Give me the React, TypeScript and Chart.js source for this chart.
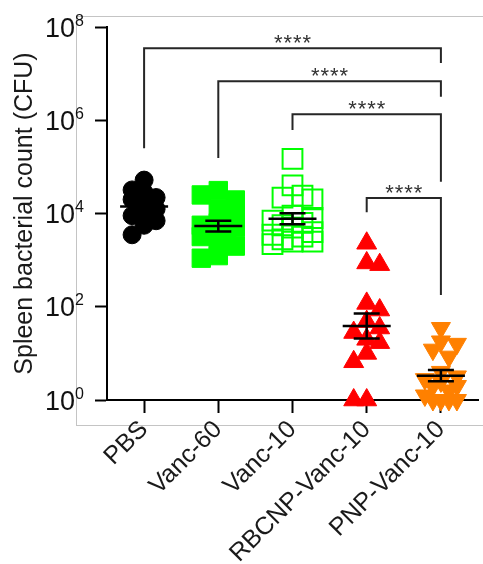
import React, { useEffect, useRef } from 'react';
import { Chart, registerables } from 'chart.js';

Chart.register(...registerables);

const categories = ['PBS', 'Vanc-60', 'Vanc-10', 'RBCNP-Vanc-10', 'PNP-Vanc-10'];
const pbsValues = [52000, 32000, 28000, 22000, 20000, 18000, 16000, 14000, 12500, 10000, 9000, 7000, 5600, 3500];
const vanc60Values = [31000, 25000, 19500, 12500, 9000, 6300, 5600, 5000, 4000, 3500, 3200, 2500, 2000, 1250, 1100];
const vanc10Values = [148000, 40000, 24000, 22000, 20000, 9000, 8000, 7000, 6300, 5600, 5000, 4000, 3500, 3200, 2800, 2500, 2500, 2200];
const rbcnpValues = [2300, 870, 800, 118, 85, 48, 35, 28, 20, 17, 10, 6.6, 1, 1];
const pnpValues = [35, 18, 16, 12, 8.5, 4, 3.2, 2.8, 2.5, 2, 2, 1.6, 1.25, 1, 1, 1, 1];
const yTickExponents = [0, 2, 4, 6, 8];
const yTitle = 'Spleen bacterial count (CFU)';

// significance brackets: from/to category index, level and leg ends in data units
const comparisons = [
  { from: 0, to: 4, label: '****', level: 3.5e7, leftEnd: 2.5e5, rightEnd: 1.7e7 },
  { from: 1, to: 4, label: '****', level: 6.9e6, leftEnd: 1.55e5, rightEnd: 3.2e6 },
  { from: 2, to: 4, label: '****', level: 1.35e6, leftEnd: 6.2e5, rightEnd: 4.8e4 },
  { from: 3, to: 4, label: '****', level: 2.15e4, leftEnd: 1.07e4, rightEnd: 178 },
];

const groups = [pbsValues, vanc60Values, vanc10Values, rbcnpValues, pnpValues];

const groupStyles = [
  { pointStyle: 'circle', radius: 9, bg: '#000000', border: '#000000', bw: 1, rotation: 0, step: 6, minDist: 12, maxK: 2 },
  { pointStyle: 'rect', radius: 13, bg: '#00ff00', border: '#00ff00', bw: 1, rotation: 0, step: 8.5, minDist: 13, maxK: 2 },
  { pointStyle: 'rect', radius: 14, bg: 'rgba(0,0,0,0)', border: '#00ff00', bw: 2, rotation: 0, step: 10, minDist: 13, maxK: 2 },
  { pointStyle: 'triangle', radius: 11.5, bg: '#ff0000', border: '#ff0000', bw: 1, rotation: 0, step: 6.5, minDist: 13, maxK: 2 },
  { pointStyle: 'triangle', radius: 11, bg: '#ff8000', border: '#ff8000', bw: 1, rotation: 180, step: 8, minDist: 11, maxK: 2 },
];

const FONT = "'Liberation Sans', Arial, sans-serif";

function swarmOffsets(pys: number[], step: number, minDist: number, maxK: number): number[] {
  const placed: { x: number; y: number }[] = [];
  const offs: number[] = [];
  pys.forEach((py, idx) => {
    let best = 0;
    let bestScore = -Infinity;
    let found = false;
    for (let k = 0; k <= maxK && !found; k++) {
      const sign = idx % 2 === 0 ? 1 : -1;
      const cands = k === 0 ? [0] : [sign * k * step, -sign * k * step];
      for (const c of cands) {
        let md = Infinity;
        for (const p of placed) md = Math.min(md, Math.hypot(p.x - c, p.y - py));
        if (md >= minDist) {
          best = c;
          found = true;
          break;
        }
        if (md > bestScore) {
          bestScore = md;
          best = c;
        }
      }
    }
    placed.push({ x: best, y: py });
    offs.push(best);
  });
  return offs;
}

function logStats(vals: number[]) {
  const logs = vals.map((v) => Math.log10(v));
  const n = logs.length;
  const m = logs.reduce((a, b) => a + b, 0) / n;
  const sd = Math.sqrt(logs.reduce((a, b) => a + (b - m) * (b - m), 0) / (n - 1));
  return { m, sem: sd / Math.sqrt(n) };
}

const overlayPlugin = {
  id: 'overlay',
  afterDatasetsDraw(chart: any) {
    const { ctx } = chart;
    const xs = chart.scales.x;
    const ys = chart.scales.y;
    ctx.save();
    // mean + SEM
    ctx.strokeStyle = '#000';
    ctx.lineWidth = 2.5;
    groups.forEach((vals, i) => {
      const { m, sem } = logStats(vals);
      const cx = xs.getPixelForValue(i);
      const ym = ys.getPixelForValue(Math.pow(10, m));
      const yu = ys.getPixelForValue(Math.pow(10, m + sem));
      const yl = ys.getPixelForValue(Math.pow(10, m - sem));
      ctx.beginPath();
      ctx.moveTo(cx - 24, ym); ctx.lineTo(cx + 24, ym);
      ctx.moveTo(cx - 13, yu); ctx.lineTo(cx + 13, yu);
      ctx.moveTo(cx - 13, yl); ctx.lineTo(cx + 13, yl);
      ctx.moveTo(cx, yu); ctx.lineTo(cx, yl);
      ctx.stroke();
    });
    // brackets
    ctx.strokeStyle = '#262626';
    ctx.lineWidth = 2;
    ctx.lineJoin = 'miter';
    comparisons.forEach((c) => {
      const x1 = xs.getPixelForValue(c.from);
      const x2 = xs.getPixelForValue(c.to);
      const yb = ys.getPixelForValue(c.level);
      const yl = ys.getPixelForValue(c.leftEnd);
      const yr = ys.getPixelForValue(c.rightEnd);
      ctx.beginPath();
      ctx.moveTo(x1, yl);
      ctx.lineTo(x1, yb);
      ctx.lineTo(x2, yb);
      ctx.lineTo(x2, yr);
      ctx.stroke();
      ctx.fillStyle = '#333';
      ctx.font = `22px ${FONT}`;
      ctx.textAlign = 'center';
      ctx.textBaseline = 'alphabetic';
      const mid = (x1 + x2) / 2;
      const chars = c.label.split('');
      chars.forEach((ch, k) => {
        ctx.fillText(ch, mid + (k - (chars.length - 1) / 2) * 9.5, yb + 2);
      });
    });
    ctx.restore();
  },
  afterDraw(chart: any) {
    const { ctx } = chart;
    const ys = chart.scales.y;
    ctx.save();
    ctx.fillStyle = '#111';
    ctx.textBaseline = 'alphabetic';
    ctx.textAlign = 'right';
    const xr = ys.right - 23;
    yTickExponents.forEach((e) => {
      const py = ys.getPixelForValue(Math.pow(10, e));
      ctx.font = `16px ${FONT}`;
      const we = ctx.measureText(String(e)).width;
      ctx.fillText(String(e), xr, py - 1.5);
      ctx.font = `27px ${FONT}`;
      ctx.fillText('10', xr - we, py + 9.7);
    });
    ctx.restore();
  },
};

export default function App() {
  const ref = useRef<HTMLCanvasElement>(null);

  useEffect(() => {
    const canvas = ref.current;
    if (!canvas) return;
    const chart = new Chart(canvas, {
      type: 'scatter',
      data: {
        datasets: groups.map((vals, i) => {
          const s = groupStyles[i];
          return {
            label: categories[i],
            data: vals.map((v) => ({ x: i, y: v })),
            pointStyle: s.pointStyle as any,
            pointRadius: s.radius,
            pointBackgroundColor: s.bg,
            pointBorderColor: s.border,
            pointBorderWidth: s.bw,
            pointRotation: s.rotation,
            showLine: false,
            clip: false as any,
          };
        }),
      },
      options: {
        responsive: false,
        animation: false,
        events: [],
        layout: { autoPadding: false, padding: { left: 0, top: 27, right: 5, bottom: 0 } },
        plugins: { legend: { display: false }, tooltip: { enabled: false } },
        scales: {
          x: {
            type: 'linear',
            min: -0.5,
            max: 4.5,
            afterBuildTicks: (scale: any) => {
              scale.ticks = categories.map((_, i) => ({ value: i }));
            },
            afterFit: (scale: any) => {
              scale.height = 164;
              scale.paddingLeft = 0;
              scale.paddingRight = 0;
            },
            grid: { drawOnChartArea: false, drawTicks: true, tickLength: 13, tickWidth: 2, tickColor: '#000' },
            border: { display: true, color: '#000', width: 2 },
            ticks: {
              minRotation: 45,
              maxRotation: 45,
              padding: 2,
              color: '#1a1a1a',
              font: { family: FONT, size: 25 },
              callback: (v: any) => categories[Math.round(Number(v))] ?? '',
            },
          },
          y: {
            type: 'logarithmic',
            min: 1,
            max: 1e8,
            afterBuildTicks: (scale: any) => {
              scale.ticks = yTickExponents.map((e) => ({ value: Math.pow(10, e) }));
            },
            afterFit: (scale: any) => {
              scale.width = 107;
              scale.paddingTop = 0;
              scale.paddingBottom = 0;
            },
            grid: { drawOnChartArea: false, drawTicks: true, tickLength: 12, tickWidth: 2, tickColor: '#000' },
            border: { display: true, color: '#000', width: 2 },
            ticks: { display: false },
            title: {
              display: true,
              text: yTitle,
              color: '#1a1a1a',
              font: { family: FONT, size: 25 },
              padding: { top: 10, bottom: 0 },
            },
          },
        },
      },
      plugins: [overlayPlugin],
    });

    // spread overlapping points horizontally (beeswarm) using the chart's scales
    const xs: any = chart.scales.x;
    const ys: any = chart.scales.y;
    const pxPerUnit = xs.getPixelForValue(1) - xs.getPixelForValue(0);
    chart.data.datasets.forEach((ds: any, i: number) => {
      const vals = groups[i];
      const s = groupStyles[i];
      const pys = vals.map((v) => ys.getPixelForValue(v));
      const offs = swarmOffsets(pys, s.step, s.minDist, s.maxK);
      ds.data = vals.map((v, j) => ({ x: i + offs[j] / pxPerUnit, y: v }));
    });
    chart.update();

    return () => chart.destroy();
  }, []);

  return (
    <div style={{ position: 'fixed', left: 0, top: 0, width: 483, height: 564, background: '#fff', overflow: 'hidden' }}>
      <div style={{ position: 'absolute', left: 76, top: 16, width: 520, height: 408, border: '1px solid #c4c4c4' }} />
      <canvas ref={ref} width={483} height={564} style={{ position: 'absolute', left: 0, top: 0, width: 483, height: 564 }} />
    </div>
  );
}
